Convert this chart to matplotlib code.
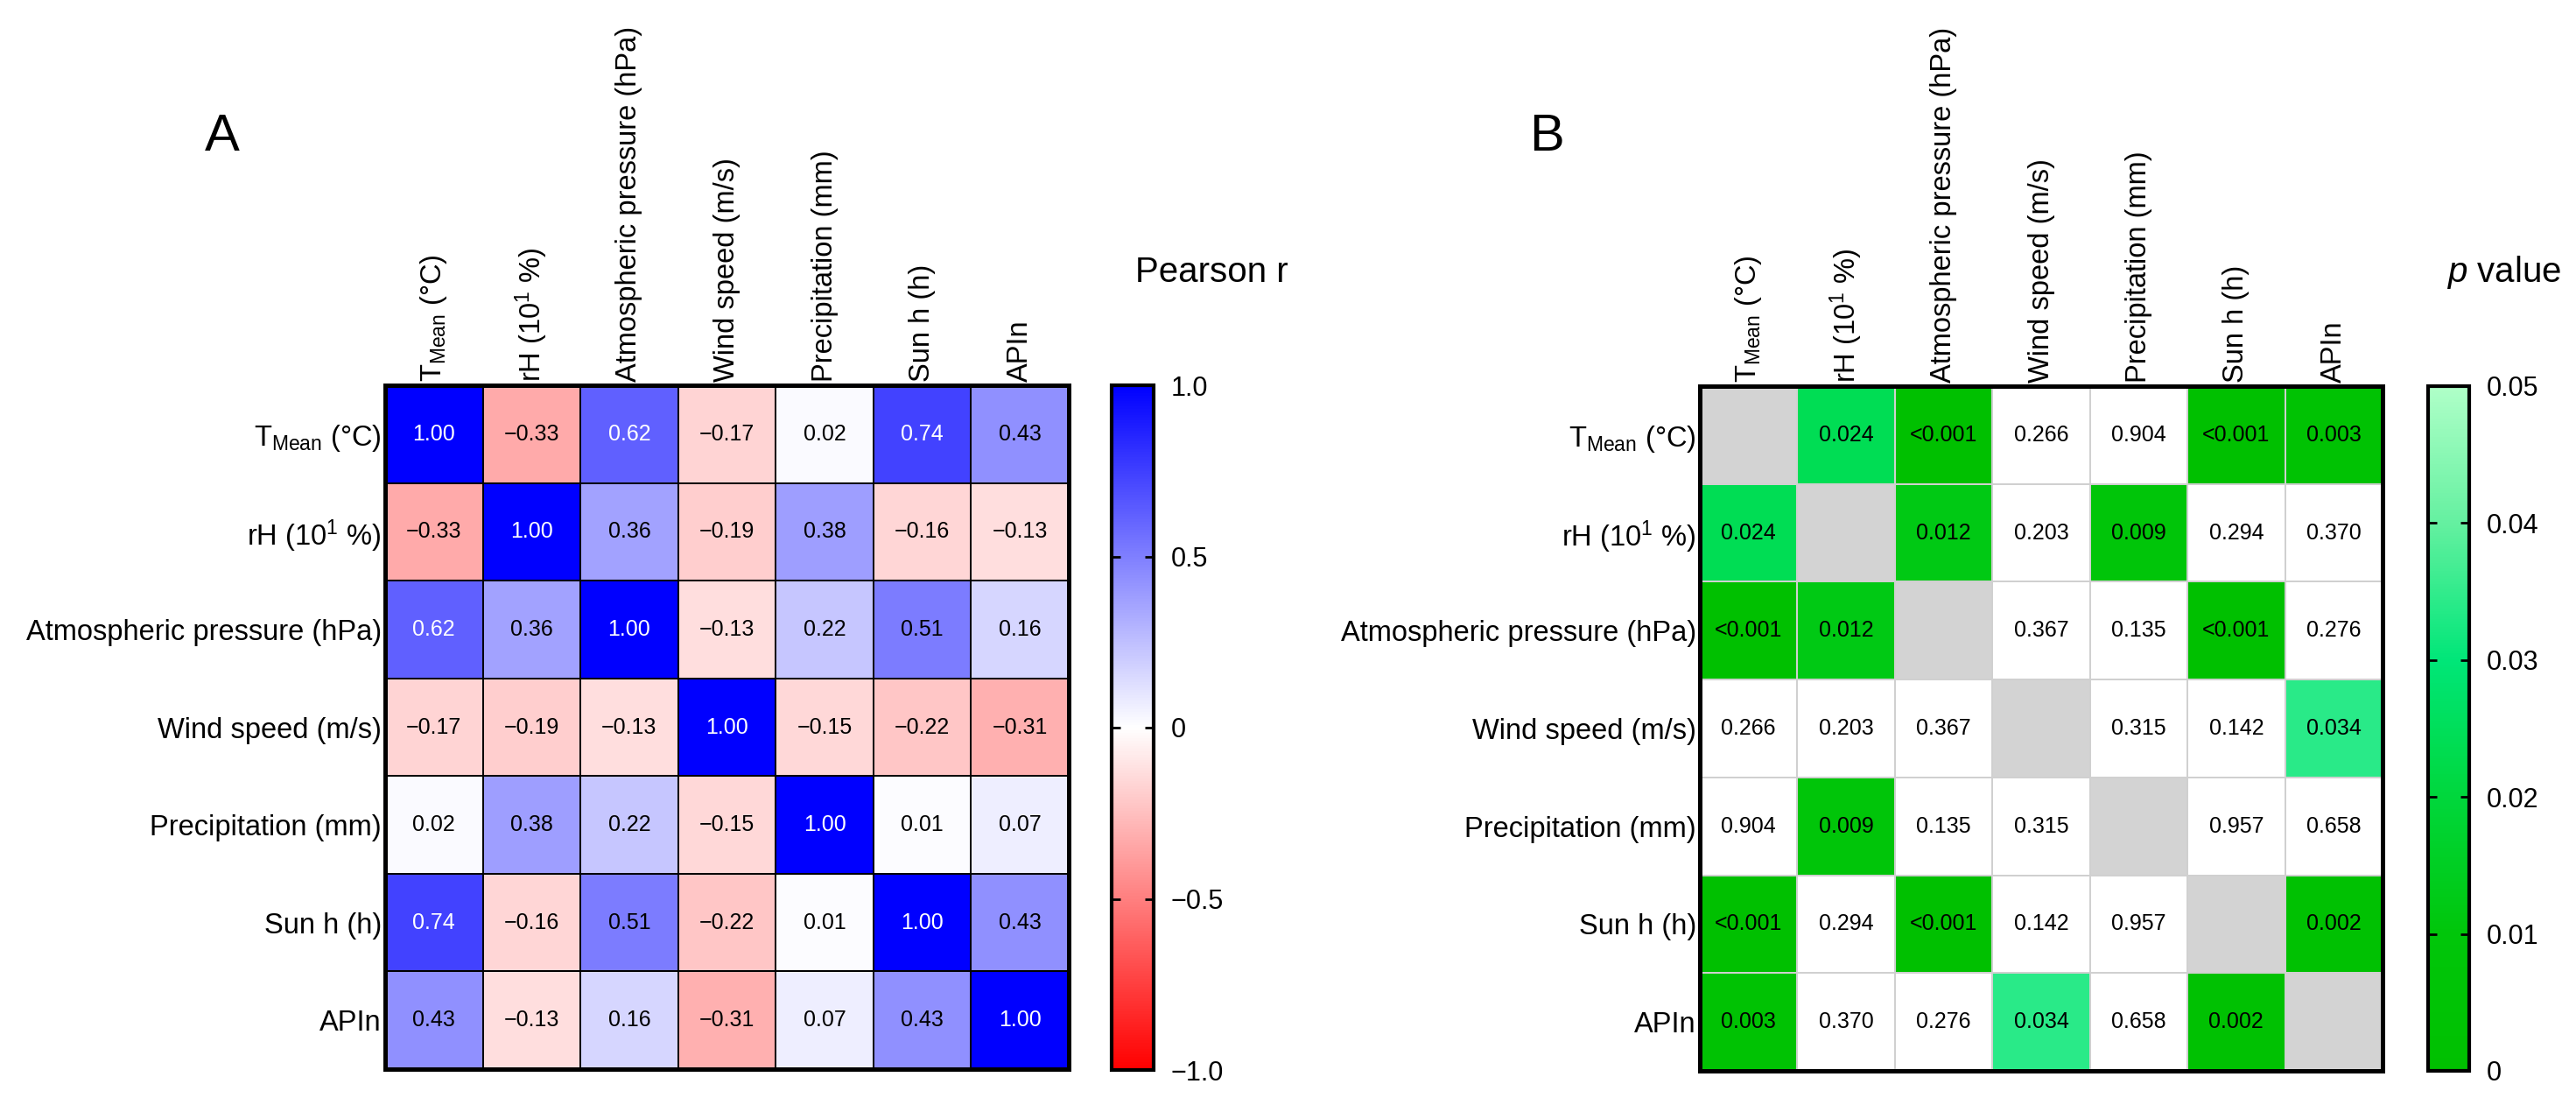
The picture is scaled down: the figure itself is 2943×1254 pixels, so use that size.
import numpy as np
import matplotlib
matplotlib.use('Agg')
import matplotlib.pyplot as plt
from matplotlib.colors import LinearSegmentedColormap

plt.rcParams['font.family'] = ['Liberation Sans', 'DejaVu Sans']
plt.rcParams['mathtext.fontset'] = 'custom'
plt.rcParams['mathtext.rm'] = 'Liberation Sans'
plt.rcParams['mathtext.it'] = 'Liberation Sans:italic'
plt.rcParams['axes.unicode_minus'] = True

labels = ['T$_{\\mathrm{Mean}}$ (°C)', 'rH (10$^{1}$ %)', 'Atmospheric pressure (hPa)',
          'Wind speed (m/s)', 'Precipitation (mm)', 'Sun h (h)', 'APIn']

# Pearson r
r_tmean = [1.00, -0.33, 0.62, -0.17, 0.02, 0.74, 0.43]
r_rh = [-0.33, 1.00, 0.36, -0.19, 0.38, -0.16, -0.13]
r_atm = [0.62, 0.36, 1.00, -0.13, 0.22, 0.51, 0.16]
r_wind = [-0.17, -0.19, -0.13, 1.00, -0.15, -0.22, -0.31]
r_prec = [0.02, 0.38, 0.22, -0.15, 1.00, 0.01, 0.07]
r_sun = [0.74, -0.16, 0.51, -0.22, 0.01, 1.00, 0.43]
r_apin = [0.43, -0.13, 0.16, -0.31, 0.07, 0.43, 1.00]

# p values ('' = diagonal)
p_tmean = ['', '0.024', '<0.001', '0.266', '0.904', '<0.001', '0.003']
p_rh = ['0.024', '', '0.012', '0.203', '0.009', '0.294', '0.370']
p_atm = ['<0.001', '0.012', '', '0.367', '0.135', '<0.001', '0.276']
p_wind = ['0.266', '0.203', '0.367', '', '0.315', '0.142', '0.034']
p_prec = ['0.904', '0.009', '0.135', '0.315', '', '0.957', '0.658']
p_sun = ['<0.001', '0.294', '<0.001', '0.142', '0.957', '', '0.002']
p_apin = ['0.003', '0.370', '0.276', '0.034', '0.658', '0.002', '']

r_ticks = [-1.0, -0.5, 0, 0.5, 1.0]
r_ticklabels = ['\u22121.0', '\u22120.5', '0', '0.5', '1.0']
p_ticks = [0, 0.01, 0.02, 0.03, 0.04, 0.05]
p_ticklabels = ['0', '0.01', '0.02', '0.03', '0.04', '0.05']

W, H = 2943, 1254
TICK_FS = 23.5
CELL_FS = 18
CBAR_FS = 22


def px_box(x0, y0, x1, y1):
    return [x0 / W, 1 - y1 / H, (x1 - x0) / W, (y1 - y0) / H]


def style_heatmap(ax):
    n = len(labels)
    ax.set_xlim(0, n)
    ax.set_ylim(n, 0)
    ax.set_xticks(np.arange(n) + 0.5)
    ax.set_yticks(np.arange(n) + 0.5)
    ax.set_xticklabels(labels, rotation=90, fontsize=TICK_FS)
    ax.set_yticklabels(labels, fontsize=TICK_FS)
    ax.xaxis.tick_top()
    ax.tick_params(length=0, pad=3)
    for s in ax.spines.values():
        s.set_linewidth(3.6)


def style_cbar(cb, ticks, ticklabels):
    cb.set_ticks(ticks)
    cb.set_ticklabels(ticklabels)
    cb.ax.tick_params(direction='in', length=7, width=2, left=True, right=True,
                      labelsize=CBAR_FS, pad=14)
    cb.outline.set_linewidth(3)


def draw_r(fig):
    r = np.array([r_tmean, r_rh, r_atm, r_wind, r_prec, r_sun, r_apin])
    cmap = LinearSegmentedColormap.from_list('rwb', ['#ff0000', '#ffffff', '#0000ff'])
    ax = fig.add_axes(px_box(440, 440, 1221, 1221))
    mesh = ax.pcolormesh(r, cmap=cmap, vmin=-1, vmax=1, edgecolors='black', linewidth=1.1)
    for i in range(r.shape[0]):
        for j in range(r.shape[1]):
            v = r[i, j]
            txt = f'{v:.2f}'.replace('-', '\u2212')
            ax.text(j + 0.5, i + 0.5, txt, ha='center', va='center', fontsize=CELL_FS,
                    color='white' if v > 0.55 else 'black')
    style_heatmap(ax)

    cax = fig.add_axes(px_box(1270, 440, 1318, 1222))
    cb = fig.colorbar(mesh, cax=cax)
    style_cbar(cb, r_ticks, r_ticklabels)
    fig.text(234 / W, 1 - 172 / H, 'A', fontsize=43, va='baseline')
    fig.text(1297 / W, 1 - 322 / H, 'Pearson r', fontsize=29, va='baseline')


def draw_p(fig):
    p_txt = [p_tmean, p_rh, p_atm, p_wind, p_prec, p_sun, p_apin]
    vals = np.ma.masked_all((7, 7))
    for i, row in enumerate(p_txt):
        for j, s in enumerate(row):
            if s:
                vals[i, j] = 0.0 if s.startswith('<') else float(s)
    greens = [(0, 192, 0), (0, 198, 10), (0, 215, 60), (0, 230, 120), (100, 240, 160), (175, 255, 200)]
    cmap = LinearSegmentedColormap.from_list(
        'pgreen', [tuple(c / 255 for c in g) for g in greens])
    cmap.set_over('white')
    cmap.set_bad('#d3d3d3')

    ax = fig.add_axes(px_box(1942, 441, 2722, 1223))
    ax.set_facecolor('#d3d3d3')
    mesh = ax.pcolormesh(vals, cmap=cmap, vmin=0, vmax=0.05, edgecolors='#d0d0d0', linewidth=1.1)
    for i, row in enumerate(p_txt):
        for j, s in enumerate(row):
            if s:
                ax.text(j + 0.5, i + 0.5, s, ha='center', va='center', fontsize=CELL_FS)
    style_heatmap(ax)

    cax = fig.add_axes(px_box(2774, 441, 2821, 1223))
    cb = fig.colorbar(mesh, cax=cax)
    style_cbar(cb, p_ticks, p_ticklabels)
    fig.text(1747 / W, 1 - 172 / H, 'B', fontsize=43, va='baseline')
    fig.text(2795 / W, 1 - 322 / H, '$p$ value', fontsize=29, va='baseline')


if __name__ == '__main__':
    fig = plt.figure(figsize=(W / 100, H / 100), dpi=100)
    draw_r(fig)
    draw_p(fig)
    fig.savefig('out.png', dpi=100)
